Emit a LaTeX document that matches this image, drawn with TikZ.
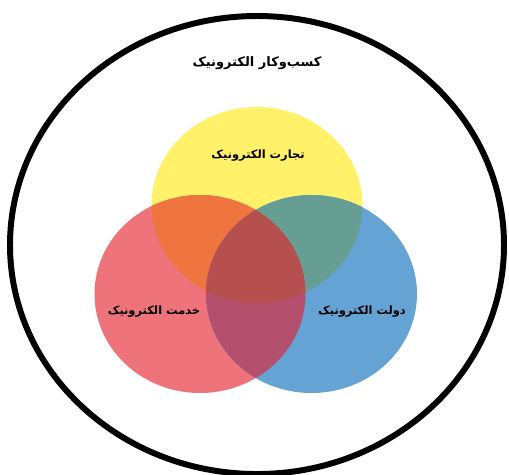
\documentclass[tikz,border=0pt]{standalone}
\usepackage{fontspec}
\newfontfamily\arabicfont[Script=Arabic]{DejaVu Sans}
\TeXXeTstate=1
\definecolor{sahmyellow}{HTML}{FFF26A}
\definecolor{sahmred}{HTML}{EF737A}
\definecolor{sahmblue}{HTML}{64A3D3}
\definecolor{yrorange}{HTML}{EE7440}
\definecolor{ybteal}{HTML}{669E94}
\definecolor{rbplum}{HTML}{B54F6E}
\definecolor{allbrick}{HTML}{B5504F}
\tikzset{
  matn/.style={font=\arabicfont\bfseries\fontsize{6.5}{8}\selectfont, inner sep=1pt},
}
\newcommand{\yellowpath}{(257,205) ellipse [x radius=105.5, y radius=98]}
\newcommand{\redpath}{(200,294) ellipse [x radius=105.5, y radius=99]}
\newcommand{\bluepath}{(311.5,294) ellipse [x radius=105.5, y radius=99]}
\begin{document}
\begin{tikzpicture}[x=0.02cm, y=-0.02cm, line join=round, line cap=round]
  \useasboundingbox (0,0) rectangle (509,474);
  % outer circle
  \draw[line width=3.4pt] (257,245) ellipse [x radius=247, y radius=229];
  % three circles
  \fill[sahmyellow] \yellowpath;
  \fill[sahmred] \redpath;
  \fill[sahmblue] \bluepath;
  % overlaps
  \begin{scope}
    \clip \yellowpath;
    \fill[yrorange] \redpath;
    \fill[ybteal] \bluepath;
  \end{scope}
  \begin{scope}
    \clip \redpath;
    \fill[rbplum] \bluepath;
  \end{scope}
  \begin{scope}
    \clip \yellowpath;
    \clip \redpath;
    \fill[allbrick] \bluepath;
  \end{scope}
  % labels
  \node[matn, font=\arabicfont\bfseries\fontsize{7.4}{9}\selectfont] (kasb) at (257,63) {\beginR کسب^^^^200cوکار الکترونیک\endR};
  \node[matn] (tejarat) at (258,156) {\beginR تجارت الکترونیک\endR};
  \node[matn] (khedmat) at (154,312) {\beginR خدمت الکترونیک\endR};
  \node[matn] (dolat) at (362,312) {\beginR دولت الکترونیک\endR};
\end{tikzpicture}
\end{document}
